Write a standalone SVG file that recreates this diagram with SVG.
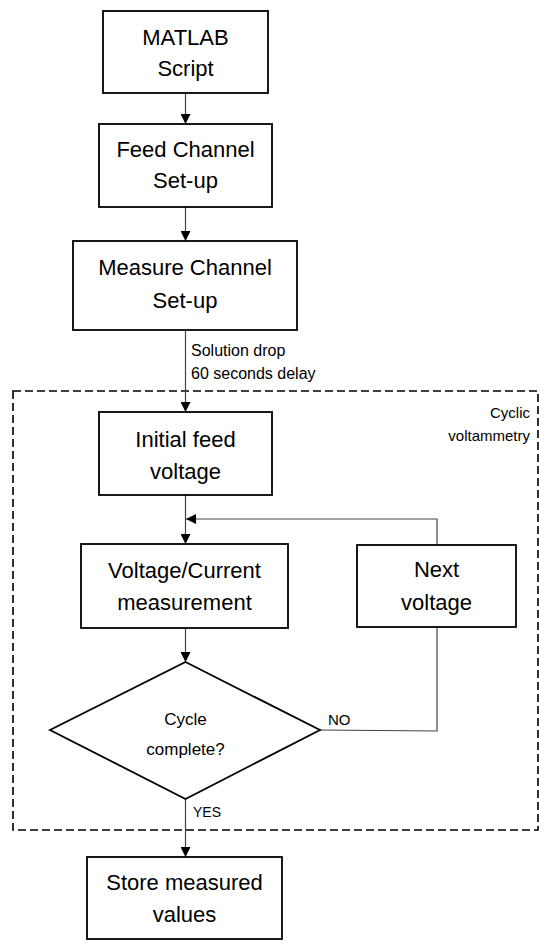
<svg xmlns="http://www.w3.org/2000/svg" width="550" height="946" viewBox="0 0 550 946">
<defs>
<marker id="ah" viewBox="0 0 10 10" refX="10" refY="5" markerWidth="10" markerHeight="10" markerUnits="userSpaceOnUse" orient="auto">
<path d="M0,0 L10,5 L0,10 Z" fill="#000"/>
</marker>
</defs>
<style>
.box{fill:#fff;stroke:#000;stroke-width:1.8}
.t{font-family:"Liberation Sans",Arial,sans-serif;font-size:22px;fill:#000;text-anchor:middle}
.d{font-family:"Liberation Sans",Arial,sans-serif;font-size:17px;fill:#000;text-anchor:middle}
.s{font-family:"Liberation Sans",Arial,sans-serif;font-size:15px;fill:#000}
.c{stroke:#444;stroke-width:1.2;fill:none}
.dash{fill:none;stroke:#000;stroke-width:1.6;stroke-dasharray:8 4}
</style>
<rect width="550" height="946" fill="#fff"/>
<rect class="dash" x="13" y="391" width="525" height="439"/>
<g id="connectors">
<line class="c" x1="185.5" y1="93" x2="185.5" y2="124" marker-end="url(#ah)"/>
<line class="c" x1="185.5" y1="207" x2="185.5" y2="241" marker-end="url(#ah)"/>
<line class="c" x1="185.5" y1="330" x2="185.5" y2="412" marker-end="url(#ah)"/>
<line class="c" x1="185.5" y1="495" x2="185.5" y2="544" marker-end="url(#ah)"/>
<polyline class="c" points="437,545 437,519 186,519" marker-end="url(#ah)"/>
<line class="c" x1="185.5" y1="628" x2="185.5" y2="662" marker-end="url(#ah)"/>
<polyline class="c" points="320,730 437,731 437,627"/>
<line class="c" x1="185.5" y1="799" x2="185.5" y2="857" marker-end="url(#ah)"/>
<text class="s" x="191" y="356" style="font-size:16px">Solution drop</text>
<text class="s" x="191" y="379" style="font-size:16px">60 seconds delay</text>
<text class="s" x="328" y="725">NO</text>
<text class="s" x="193" y="817" style="font-size:14px">YES</text>
</g>
<g id="cyclic-label">
<text class="s" x="530" y="418" text-anchor="end">Cyclic</text>
<text class="s" x="530" y="441" text-anchor="end">voltammetry</text>
</g>
<g id="matlab">
<rect class="box" x="103" y="11" width="165" height="82"/>
<text class="t" x="185.5" y="45">MATLAB</text>
<text class="t" x="185.5" y="76">Script</text>
</g>
<g id="feed">
<rect class="box" x="99" y="124" width="173" height="83"/>
<text class="t" x="185.5" y="157">Feed Channel</text>
<text class="t" x="185.5" y="188">Set-up</text>
</g>
<g id="measure">
<rect class="box" x="73" y="241" width="224" height="89"/>
<text class="t" x="185" y="275">Measure Channel</text>
<text class="t" x="185" y="308">Set-up</text>
</g>
<g id="initial">
<rect class="box" x="99" y="412" width="173" height="83"/>
<text class="t" x="185.5" y="447">Initial feed</text>
<text class="t" x="185.5" y="479">voltage</text>
</g>
<g id="vc">
<rect class="box" x="81" y="544" width="207" height="84"/>
<text class="t" x="184.5" y="578">Voltage/Current</text>
<text class="t" x="184.5" y="610">measurement</text>
</g>
<g id="next">
<rect class="box" x="357" y="545" width="159" height="82"/>
<text class="t" x="436.5" y="577">Next</text>
<text class="t" x="436.5" y="610">voltage</text>
</g>
<g id="decision">
<polygon class="box" points="185.5,662 320,730 185.5,799 50,730"/>
<text class="d" x="185.5" y="725">Cycle</text>
<text class="d" x="185.5" y="755">complete?</text>
</g>
<g id="store">
<rect class="box" x="87" y="857" width="195" height="82"/>
<text class="t" x="184.5" y="890">Store measured</text>
<text class="t" x="184.5" y="922">values</text>
</g>
</svg>
